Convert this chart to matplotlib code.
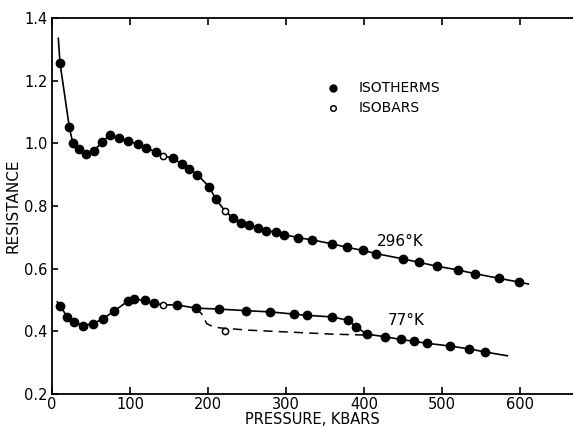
import matplotlib.pyplot as plt
import numpy as np

# 296 K isotherm (filled) and isobar (open) points
p296 = [10.3, 22.2, 26.5, 34.6, 43.2, 53.4, 64.5, 74.4, 85.5, 97.4, 109.8, 120.9, 133,
        154.7, 166.2, 175.6, 186.3, 201.3, 209.8, 232.5, 241.9, 253, 263.7, 274.8,
        287.6, 297, 315.8, 333.3, 359.4, 378.6, 399.1, 415.8, 450.4, 470.9, 493.2,
        520.1, 542.3, 573.5, 599.1]
r296 = [1.255, 1.052, 1.002, 0.981, 0.966, 0.977, 1.003, 1.028, 1.018, 1.008, 0.997, 0.986, 0.972,
        0.952, 0.935, 0.919, 0.900, 0.862, 0.823, 0.761, 0.746, 0.739, 0.730, 0.721,
        0.716, 0.709, 0.699, 0.692, 0.679, 0.668, 0.658, 0.648, 0.631, 0.620, 0.608,
        0.596, 0.584, 0.569, 0.557]
p296_open = [141.9, 221.8]
r296_open = [0.961, 0.784]
p296_ends = [8.1, 610.7]
r296_ends = [1.335, 0.551]

# 77 K
p77 = [10.7, 19.6, 27.8, 39.3, 53, 65.4, 79.9, 97, 105.6, 119.7, 130.3, 160.3, 185,
       214.5, 248.3, 279.9, 309.9, 326.9, 359.4, 379.9, 390.1, 403.4, 426.9, 447,
       464.6, 480.3, 510.7, 534.6, 555.6]
r77 = [0.480, 0.446, 0.431, 0.418, 0.425, 0.440, 0.465, 0.496, 0.502, 0.499, 0.489, 0.484, 0.474,
       0.471, 0.466, 0.462, 0.455, 0.451, 0.446, 0.435, 0.414, 0.391, 0.383, 0.374,
       0.368, 0.362, 0.353, 0.344, 0.334]
p77_open = [141.9, 221.8]
r77_open = [0.485, 0.401]
p77_ends = [6.8, 583.8]
r77_ends = [0.494, 0.322]

# dashed isobar branch at 77 K
p_dash = [185, 192, 198.3, 206, 215.4, 250, 318, 360, 403.4]
r_dash = [0.474, 0.455, 0.425, 0.415, 0.411, 0.404, 0.396, 0.391, 0.388]

fig = plt.figure(figsize=(5.73, 4.28), dpi=100)
ax = fig.add_axes([52/573, 34/428, 1 - 52/573, (394 - 18)/428])
plt.rcParams['font.family'] = 'DejaVu Sans'


def curve(p, r, po, ro, pe, re):
    x = np.concatenate([p, po, pe])
    y = np.concatenate([r, ro, re])
    i = np.argsort(x)
    ax.plot(x[i], y[i], color='black', lw=1.2, zorder=2)


curve(p296, r296, p296_open, r296_open, p296_ends, r296_ends)
curve(p77, r77, p77_open[:1], r77_open[:1], p77_ends, r77_ends)
ax.plot(p_dash, r_dash, color='black', lw=1.1, ls=(0, (6, 4)), zorder=2)

for p, r in [(p296, r296), (p77, r77)]:
    ax.plot(p, r, 'o', color='black', ms=6, zorder=3)
for p, r in [(p296_open, r296_open), (p77_open, r77_open)]:
    ax.plot(p, r, 'o', mfc='white', mec='black', mew=1.1, ms=4.5, zorder=3)

# legend drawn as in the original
ax.plot([360], [1.177], 'o', color='black', ms=5)
ax.plot([360], [1.113], 'o', mfc='white', mec='black', mew=1.1, ms=4)
ax.text(393, 1.177, 'ISOTHERMS', fontsize=10, va='center')
ax.text(393, 1.113, 'ISOBARS', fontsize=10, va='center')

ax.text(446, 0.688, '296°K', fontsize=11, va='center', ha='center')
ax.text(454, 0.433, '77°K', fontsize=11, va='center', ha='center')

ax.set_xlim(0, 668)
ax.set_ylim(0.2, 1.4)
ax.set_xticks([0, 100, 200, 300, 400, 500, 600])
ax.set_yticks([0.2, 0.4, 0.6, 0.8, 1.0, 1.2, 1.4])
ax.set_yticklabels(['0.2', '0.4', '0.6', '0.8', '1.0', '1.2', '1.4'])
ax.spines['right'].set_visible(False)
for s in ['left', 'top', 'bottom']:
    ax.spines[s].set_linewidth(1.3)
ax.tick_params(axis='x', direction='in', top=True, length=5, width=1.2, labelsize=10.5, pad=2)
ax.tick_params(axis='y', direction='in', length=4, width=1.2, labelsize=10.5, pad=3)
ax.set_xlabel('PRESSURE, KBARS', fontsize=10.5, labelpad=0)
ax.set_ylabel('RESISTANCE', fontsize=11, labelpad=3)

fig.savefig('out.png', dpi=100)
